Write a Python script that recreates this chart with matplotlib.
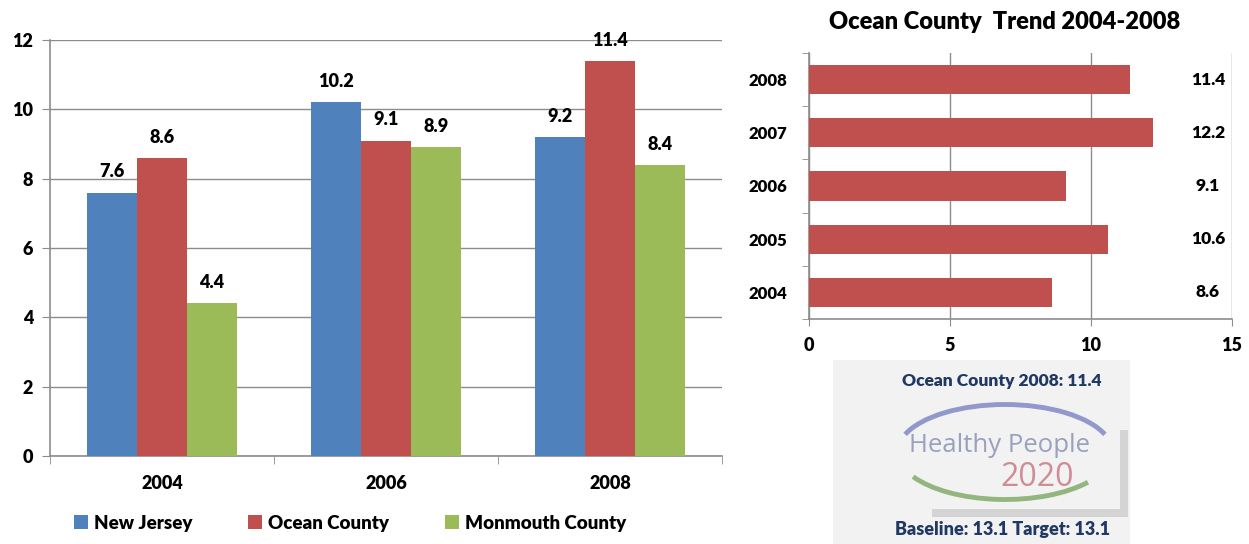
import matplotlib
matplotlib.use('Agg')
import matplotlib.pyplot as plt
import numpy as np
from matplotlib.patches import Rectangle, Arc
from matplotlib.transforms import blended_transform_factory

plt.rcParams['font.family'] = ['Lato', 'DejaVu Sans']
plt.rcParams['font.weight'] = 'bold'

# data
years = ['2004', '2006', '2008']
new_jersey = [7.6, 10.2, 9.2]
ocean_county = [8.6, 9.1, 11.4]
monmouth_county = [4.4, 8.9, 8.4]

trend_years = ['2004', '2005', '2006', '2007', '2008']
trend_values = [8.6, 10.6, 9.1, 12.2, 11.4]

series_names = ['New Jersey', 'Ocean County', 'Monmouth County']
colors = ['#4f81bd', '#c0504d', '#9bbb59']
grid_col = '#8c8c8c'

fig = plt.figure(figsize=(12.49, 5.44), dpi=100)

# ---- left grouped bar chart ----
ax = fig.add_axes([50/1249, 1-456/544, 672/1249, 416/544])
x = np.arange(len(years))
w = 0.222
for i, (vals, name, c) in enumerate(zip([new_jersey, ocean_county, monmouth_county], series_names, colors)):
    bars = ax.bar(x + (i-1)*w, vals, w, color=c, label=name, edgecolor='none', zorder=3)
    for b, v in zip(bars, vals):
        ax.text(b.get_x() + b.get_width()/2, v + 0.35, f'{v:.1f}', ha='center', va='bottom',
                fontsize=13, fontweight='heavy')

ax.set_xlim(-0.5, 2.5)
ax.set_ylim(0, 12)
ax.set_yticks(range(0, 13, 2))
ax.set_xticks(x)
ax.set_xticklabels(years)
ax.set_xticks(np.arange(-0.5, 3, 1), minor=True)
ax.tick_params(axis='x', which='major', length=0, pad=14, labelsize=13)
ax.tick_params(axis='x', which='minor', length=6, color=grid_col, direction='out')
ax.tick_params(axis='y', length=6, color=grid_col, pad=6, labelsize=13)
for lab in ax.get_xticklabels() + ax.get_yticklabels():
    lab.set_fontweight('heavy')
ax.yaxis.grid(True, color=grid_col, linewidth=1, zorder=0)
for s in ['top', 'right']:
    ax.spines[s].set_visible(False)
for s in ['left', 'bottom']:
    ax.spines[s].set_color(grid_col)
    ax.spines[s].set_linewidth(1.2)

fig.legend(loc='center', bbox_to_anchor=(350/1249, 1-523/544), ncol=3, frameon=False,
           handlelength=0.75, handleheight=0.75, handletextpad=0.3, columnspacing=3.0,
           prop={'size': 13.5, 'weight': 'heavy'})

# ---- right horizontal bar chart ----
ax2 = fig.add_axes([809/1249, 1-319/544, 423/1249, 266/544])
y = np.arange(len(trend_years))
ax2.barh(y, trend_values, height=0.55, color=colors[1], edgecolor='none', zorder=3)
ax2.set_xlim(0, 15)
ax2.set_ylim(-0.5, len(trend_years) - 0.5)
ax2.set_xticks([0, 5, 10, 15])
ax2.set_yticks(y)
ax2.set_yticklabels(trend_years)
ax2.set_yticks(np.arange(-0.5, len(trend_years), 1), minor=True)
ax2.tick_params(axis='y', which='major', length=0, pad=16, labelsize=12)
ax2.tick_params(axis='y', which='minor', length=5, color=grid_col)
ax2.tick_params(axis='x', length=5, color=grid_col, labelsize=13, pad=8)
for lab in ax2.get_xticklabels() + ax2.get_yticklabels():
    lab.set_fontweight('heavy')
ax2.xaxis.grid(True, color=grid_col, linewidth=1, zorder=0)
for s in ['top', 'right']:
    ax2.spines[s].set_visible(False)
for s in ['left', 'bottom']:
    ax2.spines[s].set_color(grid_col)
    ax2.spines[s].set_linewidth(1.2)
tr = blended_transform_factory(ax2.transAxes, ax2.transData)
for yi, v in zip(y, trend_values):
    ax2.text(0.943, yi, f'{v:.1f}', transform=tr, ha='center', va='center',
             fontsize=12.5, fontweight='heavy')

fig.text(1005/1249, 1-22/544, 'Ocean County  Trend 2004-2008', ha='center', va='center',
         fontsize=17, fontweight='heavy')

# ---- Healthy People panel ----
axp = fig.add_axes([833/1249, 0, 297/1249, 184/544])
axp.set_xlim(833, 1130)
axp.set_ylim(544, 360)
axp.axis('off')
axp.add_patch(Rectangle((833, 360), 297, 184, facecolor='#f2f2f2', edgecolor='none'))
axp.add_patch(Rectangle((932, 430), 196, 87, facecolor='#d4d4d4', edgecolor='none'))
axp.add_patch(Rectangle((893, 405), 227, 104, facecolor='#f2f2f2', edgecolor='none'))
# y axis is inverted here, so angles run clockwise on screen
axp.add_patch(Arc((1005, 452), 215, 95, theta1=20, theta2=165, color='#93b67f', lw=3.5))
axp.add_patch(Arc((1005, 452), 215, 95, theta1=190, theta2=350, color='#9298cb', lw=3.5))
axp.text(999, 445, 'Healthy People', ha='center', va='center', fontsize=18.5,
         fontweight='normal', color='#9aa0bd', family=['Open Sans', 'DejaVu Sans'])
axp.text(1037, 477, '2020', ha='center', va='center', fontsize=23,
         fontweight='normal', color='#cf8c96', family=['Open Sans', 'DejaVu Sans'])
axp.text(1002, 381, 'Ocean County 2008: 11.4', ha='center', va='center',
         fontsize=12.5, fontweight='heavy', color='#1f3864')
axp.text(1003, 530, 'Baseline: 13.1 Target: 13.1', ha='center', va='center',
         fontsize=13, fontweight='heavy', color='#1f3864')

fig.savefig('out.png', dpi=100)
